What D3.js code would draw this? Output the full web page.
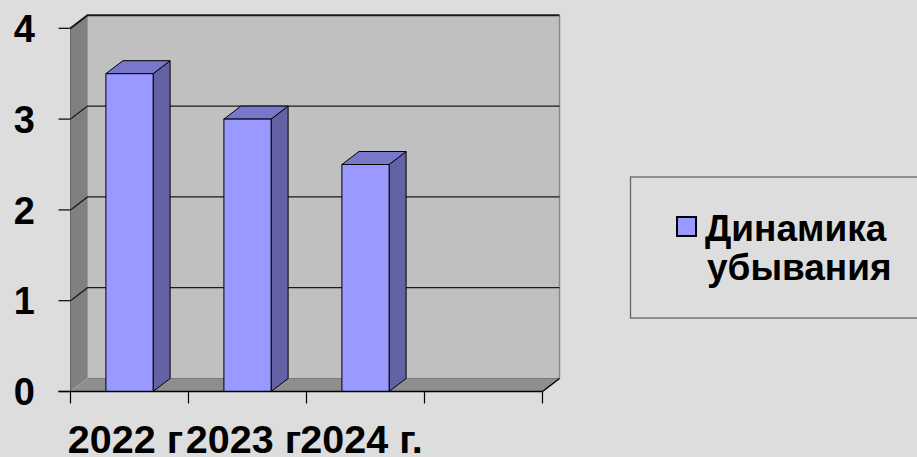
<!DOCTYPE html>
<html>
<head>
<meta charset="utf-8">
<script src="https://cdn.jsdelivr.net/npm/d3@7"></script>
<style>
  html, body { margin: 0; padding: 0; background: #dddddd; }
  svg { display: block; }
  text { font-family: "Liberation Sans", Arial, sans-serif; font-weight: bold; fill: #000; }
</style>
</head>
<body>
<svg id="chart" width="917" height="457"></svg>
<script>
// ---- data ----
const categories = ["2022 г", "2023 г", "2024 г.", ""];
const values = [3.5, 3.0, 2.5, null];
const yTicks = [0, 1, 2, 3, 4];
const seriesName = ["Динамика", "убывания"];

(function () {
// ---- layout ----
const W = 917, H = 457;
const pLeft = 70.5, pRight = 542.5, pBottom = 391.5, pTop = 28.3;
const dx = 17, dy = -13;

const svg = d3.select("#chart");
svg.append("rect").attr("width", W).attr("height", H).attr("fill", "#dddddd");

const x = d3.scaleBand().domain(categories).range([pLeft, pRight]).paddingInner(0.6).paddingOuter(0.3);
const y = d3.scaleLinear().domain([0, 4]).range([pBottom, pTop]);
const step = x.step();
const boundaries = d3.range(categories.length + 1).map(i => pLeft + i * step);

const walls = svg.append("g");
// back wall
walls.append("rect")
  .attr("x", pLeft + dx).attr("y", y(4) + dy)
  .attr("width", pRight - pLeft).attr("height", y(0) - y(4))
  .attr("fill", "#c0c0c0");
// left side wall
walls.append("polygon")
  .attr("points", [[pLeft, y(4)], [pLeft + dx, y(4) + dy], [pLeft + dx, y(0) + dy], [pLeft, y(0)]].join(" "))
  .attr("fill", "#808080");
// floor
walls.append("polygon")
  .attr("points", [[pLeft, y(0)], [pLeft + dx, y(0) + dy], [pRight + dx, y(0) + dy], [pRight, y(0)]].join(" "))
  .attr("fill", "#8e8e8e");
// back wall edges
walls.append("line")
  .attr("x1", pRight + dx).attr("x2", pRight + dx)
  .attr("y1", y(4) + dy).attr("y2", y(0) + dy)
  .attr("stroke", "#8a8a8a").attr("stroke-width", 1.5);
walls.append("line")
  .attr("x1", pLeft + dx).attr("x2", pRight + dx)
  .attr("y1", y(0) + dy).attr("y2", y(0) + dy)
  .attr("stroke", "#7a7a7a").attr("stroke-width", 1);
walls.append("line")
  .attr("x1", pLeft + dx).attr("x2", pLeft + dx)
  .attr("y1", y(4) + dy).attr("y2", y(0) + dy)
  .attr("stroke", "#9a9a9a").attr("stroke-width", 1);
walls.append("line")
  .attr("x1", pLeft + dx).attr("x2", pLeft)
  .attr("y1", y(0) + dy).attr("y2", y(0))
  .attr("stroke", "#a0a0a0").attr("stroke-width", 1);

// gridlines (1..4)
const grid = svg.append("g");
yTicks.filter(t => t > 0).forEach(t => {
  grid.append("polyline")
    .attr("points", [[pLeft, y(t)], [pLeft + dx, y(t) + dy], [pRight + dx, y(t) + dy]].join(" "))
    .attr("fill", "none").attr("stroke", "#1a1a1a").attr("stroke-width", t === 4 ? 2 : 1.3);
});

// bars
const bars = svg.append("g");
categories.forEach((c, i) => {
  const v = values[i];
  if (v == null) return;
  const x0 = x(c), x1 = x(c) + x.bandwidth();
  const yt = y(v), yb = y(0);
  bars.append("polygon")
    .attr("points", [[x1, yb], [x1 + dx, yb + dy], [x1 + dx, yt + dy], [x1, yt]].join(" "))
    .attr("fill", "#6262a4").attr("stroke", "#000").attr("stroke-width", 1).attr("stroke-linejoin", "round");
  bars.append("polygon")
    .attr("points", [[x0, yt], [x0 + dx, yt + dy], [x1 + dx, yt + dy], [x1, yt]].join(" "))
    .attr("fill", "#7777cc").attr("stroke", "#000").attr("stroke-width", 1).attr("stroke-linejoin", "round");
  bars.append("rect")
    .attr("x", x0).attr("y", yt).attr("width", x1 - x0).attr("height", yb - yt)
    .attr("fill", "#9999ff").attr("stroke", "#000").attr("stroke-width", 1);
});

// axes
const ax = svg.append("g");
ax.append("line").attr("x1", pLeft).attr("x2", pLeft).attr("y1", y(4)).attr("y2", y(0))
  .attr("stroke", "#666").attr("stroke-width", 1);
ax.append("line").attr("x1", pLeft - 12).attr("x2", pRight).attr("y1", y(0)).attr("y2", y(0))
  .attr("stroke", "#000").attr("stroke-width", 1.5);
ax.append("line").attr("x1", pRight).attr("x2", pRight + dx).attr("y1", y(0)).attr("y2", y(0) + dy)
  .attr("stroke", "#000").attr("stroke-width", 1.5);
yTicks.forEach(t => {
  ax.append("line").attr("x1", pLeft - 12).attr("x2", pLeft).attr("y1", y(t)).attr("y2", y(t))
    .attr("stroke", "#000").attr("stroke-width", 1.2);
  ax.append("text").attr("x", 35).attr("y", y(t)).attr("dy", "0.36em")
    .attr("text-anchor", "end").attr("font-size", 38).text(t);
});
boundaries.forEach(bx => {
  ax.append("line").attr("x1", bx).attr("x2", bx).attr("y1", y(0)).attr("y2", y(0) + 12)
    .attr("stroke", "#000").attr("stroke-width", 1.2);
});
categories.forEach(c => {
  ax.append("text").attr("x", x(c) + x.bandwidth() / 2 - 4).attr("y", 453)
    .attr("text-anchor", "middle").attr("font-size", 39.5).text(c);
});

// legend
const lg = svg.append("g");
lg.append("rect").attr("x", 630.5).attr("y", 177).attr("width", 300).attr("height", 141)
  .attr("fill", "none").attr("stroke", "#666").attr("stroke-width", 1.3);
lg.append("rect").attr("x", 677).attr("y", 217).attr("width", 19).attr("height", 19)
  .attr("fill", "#9999ff").attr("stroke", "#000").attr("stroke-width", 2);
seriesName.forEach((s, i) => {
  lg.append("text").attr("x", 705 + i * 2).attr("y", 241 + i * 39)
    .attr("font-size", 37).text(s);
});
})();
</script>
</body>
</html>
